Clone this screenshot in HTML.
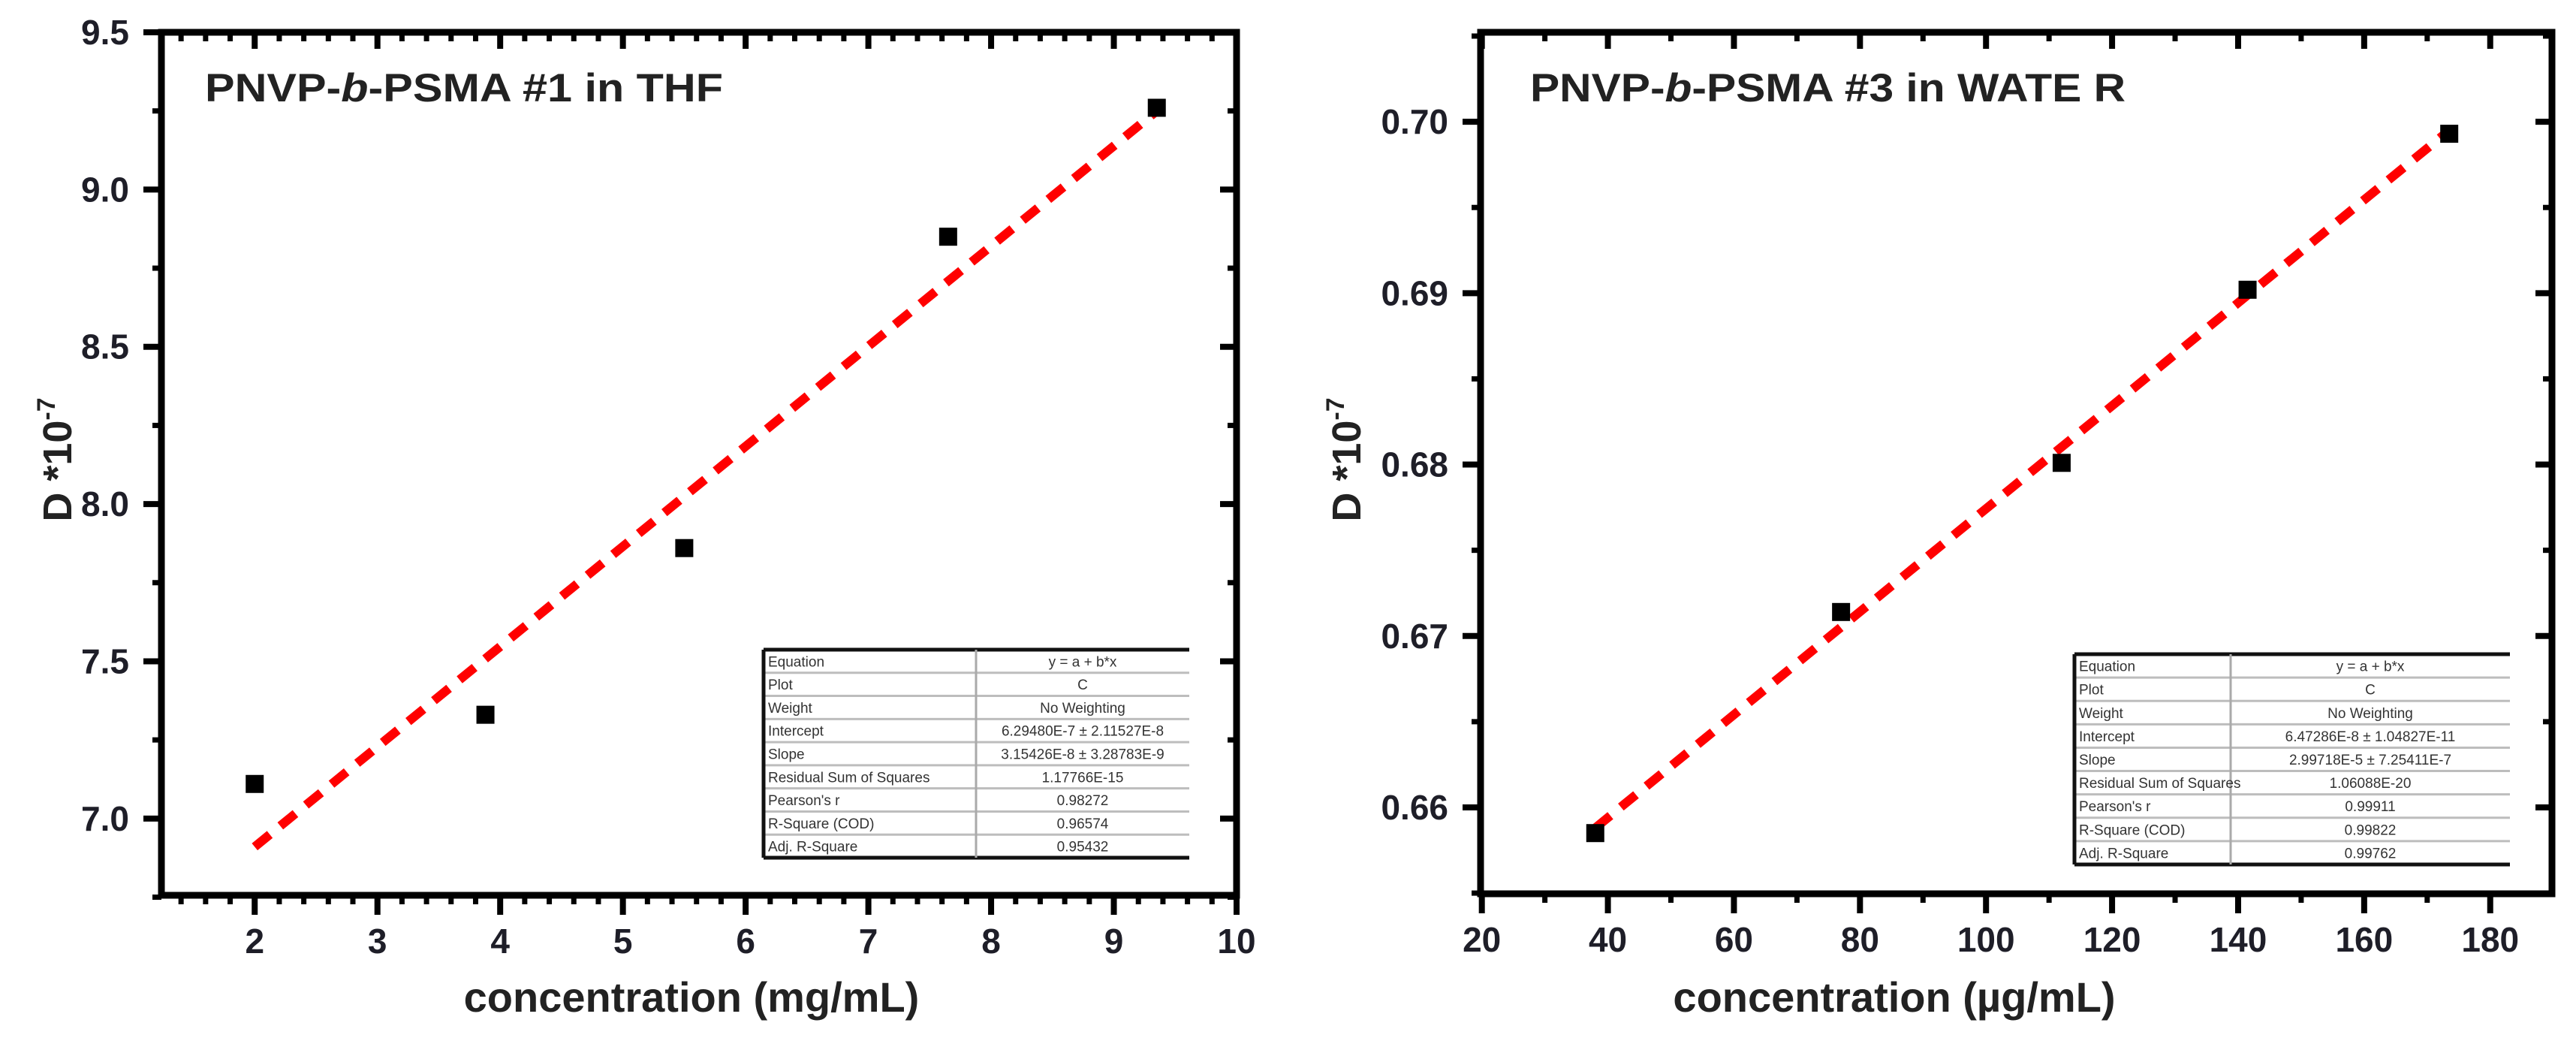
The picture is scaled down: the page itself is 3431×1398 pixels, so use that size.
<!DOCTYPE html>
<html><head><meta charset="utf-8"><style>
html,body{margin:0;padding:0;background:#fff;}
svg{display:block;font-family:"Liberation Sans",Arial,sans-serif;}
</style></head><body>
<svg id="fig" width="3431" height="1398" viewBox="0 0 3431 1398" xmlns="http://www.w3.org/2000/svg"></svg>
<script>
// Left chart data (THF)
const thfConc = [2.0, 3.88, 5.5, 7.65, 9.35];
const thfD = [7.11, 7.33, 7.86, 8.85, 9.26];
const thfFitX = [2.0, 9.35];
const thfFitY = [6.91, 9.25];
const thfXTicks = [2, 3, 4, 5, 6, 7, 8, 9, 10];
const thfYTicks = ["7.0", "7.5", "8.0", "8.5", "9.0", "9.5"];
const thfTableKeys = ["Equation","Plot","Weight","Intercept","Slope","Residual Sum of Squares","Pearson's r","R-Square (COD)","Adj. R-Square"];
const thfTableVals = ["y = a + b*x","C","No Weighting","6.29480E-7 ± 2.11527E-8","3.15426E-8 ± 3.28783E-9","1.17766E-15","0.98272","0.96574","0.95432"];
// Right chart data (water)
const wConc = [38, 77, 112, 141.5, 173.5];
const wD = [0.6585, 0.6714, 0.6801, 0.6902, 0.6993];
const wFitX = [38, 173.5];
const wFitY = [0.6588, 0.6995];
const wXTicks = [20, 40, 60, 80, 100, 120, 140, 160, 180];
const wYTicks = ["0.66", "0.67", "0.68", "0.69", "0.70"];
const wTableKeys = ["Equation","Plot","Weight","Intercept","Slope","Residual Sum of Squares","Pearson's r","R-Square (COD)","Adj. R-Square"];
const wTableVals = ["y = a + b*x","C","No Weighting","6.47286E-8 ± 1.04827E-11","2.99718E-5 ± 7.25411E-7","1.06088E-20","0.99911","0.99822","0.99762"];

const NS = "http://www.w3.org/2000/svg";
const svg = document.getElementById('fig');
function mk(tag, attrs, parent) {
  const e = document.createElementNS(NS, tag);
  for (const k in attrs) e.setAttribute(k, attrs[k]);
  (parent || svg).appendChild(e);
  return e;
}

function drawPlot(cfg) {
  const g = mk('g', {});
  
  
  const L = cfg.L, R = cfg.R, T = cfg.T, B = cfg.B;
  const sx = v => L + (v - cfg.xmin) / (cfg.xmax - cfg.xmin) * (R - L);
  const sy = v => B - (v - cfg.ymin) / (cfg.ymax - cfg.ymin) * (B - T);

  for (let v = cfg.xMinorStart; v <= cfg.xmax + 1e-9; v += cfg.xMinor) {
    const x = sx(v);
    if (x < L - 1) continue;
    const t1 = mk('line', {x1: x, x2: x, y1: B, y2: B + 12, stroke: '#000', 'stroke-width': 7}, g);
    
    
    const t2 = mk('line', {x1: x, x2: x, y1: T, y2: T + 12, stroke: '#000', 'stroke-width': 7}, g);
    
    
  }
  for (let v = cfg.yMinorStart; v <= cfg.ymax + 1e-9; v += cfg.yMinor) {
    const y = sy(v);
    const t1 = mk('line', {x1: L - 12, x2: L, y1: y, y2: y, stroke: '#000', 'stroke-width': 7}, g);
    
    
    const t2 = mk('line', {x1: R - 12, x2: R, y1: y, y2: y, stroke: '#000', 'stroke-width': 7}, g);
    
    
  }
  cfg.xTicks.forEach(v => {
    const x = sx(v);
    const t = mk('line', {x1: x, x2: x, y1: B, y2: B + 26, stroke: '#000', 'stroke-width': 8}, g);
    
    
    const t2 = mk('line', {x1: x, x2: x, y1: T, y2: T + 22, stroke: '#000', 'stroke-width': 8}, g);
    
    
    const lb = mk('text', {x: x, y: B + 77, 'text-anchor': 'middle', 'font-size': 46, 'font-weight': 'bold', fill: '#1e1e28'}, g);
    lb.textContent = String(v);
    
    
  });
  cfg.yTicks.forEach(s => {
    const y = sy(parseFloat(s));
    const t = mk('line', {x1: L - 24, x2: L, y1: y, y2: y, stroke: '#000', 'stroke-width': 8}, g);
    
    
    const t2 = mk('line', {x1: R - 22, x2: R, y1: y, y2: y, stroke: '#000', 'stroke-width': 8}, g);
    
    
    const lb = mk('text', {x: L - 43, y: y + 16, 'text-anchor': 'end', 'font-size': cfg.yFont, 'font-weight': 'bold', fill: '#1e1e28'}, g);
    lb.textContent = s;
    
    
  });
  const fr = mk('rect', {x: L, y: T, width: R - L, height: B - T, fill: 'none', stroke: '#000', 'stroke-width': 9}, g);
  
  

  const ti = mk('text', {x: cfg.titleX, y: 135, 'font-size': 53, 'font-weight': 'bold', fill: '#222', textLength: cfg.titleW, lengthAdjust: 'spacingAndGlyphs'}, g);
  
  
  const a = mk('tspan', {}, ti); a.textContent = 'PNVP-';
  const b = mk('tspan', {'font-style': 'italic'}, ti); b.textContent = 'b';
  const c = mk('tspan', {}, ti); c.textContent = cfg.titleRest;

  const tg = mk('g', {}, g);
  
  
  const tb = cfg.table;
  const rh = (tb.B - tb.T) / cfg.keys.length;
  mk('rect', {x: tb.L, y: tb.T, width: tb.R - tb.L, height: tb.B - tb.T, fill: '#fff'}, tg);
  for (let i = 1; i < cfg.keys.length; i++) {
    mk('line', {x1: tb.L, x2: tb.R, y1: tb.T + i * rh, y2: tb.T + i * rh, stroke: '#bdbdbd', 'stroke-width': 3}, tg);
  }
  mk('line', {x1: tb.L, x2: tb.R, y1: tb.T, y2: tb.T, stroke: '#111', 'stroke-width': 5}, tg);
  mk('line', {x1: tb.L, x2: tb.R, y1: tb.B, y2: tb.B, stroke: '#111', 'stroke-width': 5}, tg);
  mk('line', {x1: tb.L, x2: tb.L, y1: tb.T, y2: tb.B, stroke: '#111', 'stroke-width': 5}, tg);
  mk('line', {x1: tb.D, x2: tb.D, y1: tb.T, y2: tb.B, stroke: '#aaa', 'stroke-width': 3}, tg);
  cfg.keys.forEach((k, i) => {
    const t1 = mk('text', {x: tb.L + 6, y: tb.T + (i + 0.5) * rh + 7, 'font-size': 19, fill: '#333'}, tg);
    t1.textContent = k;
    
    
    const t2 = mk('text', {x: (tb.D + tb.R) / 2, y: tb.T + (i + 0.5) * rh + 7, 'font-size': 19, fill: '#333', 'text-anchor': 'middle'}, tg);
    t2.textContent = cfg.vals[i];
    
    
  });

  const fl = mk('line', {x1: sx(cfg.fitX[0]), y1: sy(cfg.fitY[0]), x2: sx(cfg.fitX[1]), y2: sy(cfg.fitY[1]), stroke: '#ff0000', 'stroke-width': 12, 'stroke-dasharray': '26 18'}, g);
  
  
  cfg.xs.forEach((v, i) => {
    const p = mk('rect', {x: sx(v) - 12, y: sy(cfg.ys[i]) - 12, width: 24, height: 24, fill: '#000'}, g);
    
    
  });

  const xt = mk('text', {x: cfg.xTitleX, y: 1347, 'text-anchor': 'middle', 'font-size': 56, 'font-weight': 'bold', fill: '#222'}, g);
  xt.textContent = cfg.xTitle;
  
  
  const yt = mk('text', {transform: 'translate(' + cfg.yTitleX + ',612) rotate(-90)', 'text-anchor': 'middle', 'font-size': 54, 'font-weight': 'bold', fill: '#222'}, g);
  
  
  const y1 = mk('tspan', {}, yt); y1.textContent = 'D *10';
  const y2 = mk('tspan', {dy: -22, 'font-size': 34}, yt); y2.textContent = '-7';
}

drawPlot({name: 'thf-chart', L: 215, R: 1647, T: 43, B: 1192, xmin: 1.24, xmax: 10, ymin: 6.756, ymax: 9.5,
  xTicks: thfXTicks, yTicks: thfYTicks, xMinor: 0.2, xMinorStart: 1.4, yMinor: 0.25, yMinorStart: 6.75, yFont: 46,
  xs: thfConc, ys: thfD, fitX: thfFitX, fitY: thfFitY,
  titleX: 273, titleW: 690, titleRest: '-PSMA #1 in THF',
  table: {L: 1017, R: 1584, T: 865, B: 1142, D: 1300}, keys: thfTableKeys, vals: thfTableVals,
  xTitle: 'concentration (mg/mL)', xTitleX: 921, yTitleX: 95});

drawPlot({name: 'water-chart', L: 1972, R: 3399, T: 43, B: 1190, xmin: 19.8, xmax: 189.8, ymin: 0.65496, ymax: 0.70522,
  xTicks: wXTicks, yTicks: wYTicks, xMinor: 10, xMinorStart: 30, yMinor: 0.005, yMinorStart: 0.655, yFont: 46,
  xs: wConc, ys: wD, fitX: wFitX, fitY: wFitY,
  titleX: 2038, titleW: 793, titleRest: '-PSMA #3 in WATE R',
  table: {L: 2763, R: 3343, T: 871, B: 1151, D: 2971}, keys: wTableKeys, vals: wTableVals,
  xTitle: 'concentration  (µg/mL)', xTitleX: 2523, yTitleX: 1812});
</script>
</body></html>
